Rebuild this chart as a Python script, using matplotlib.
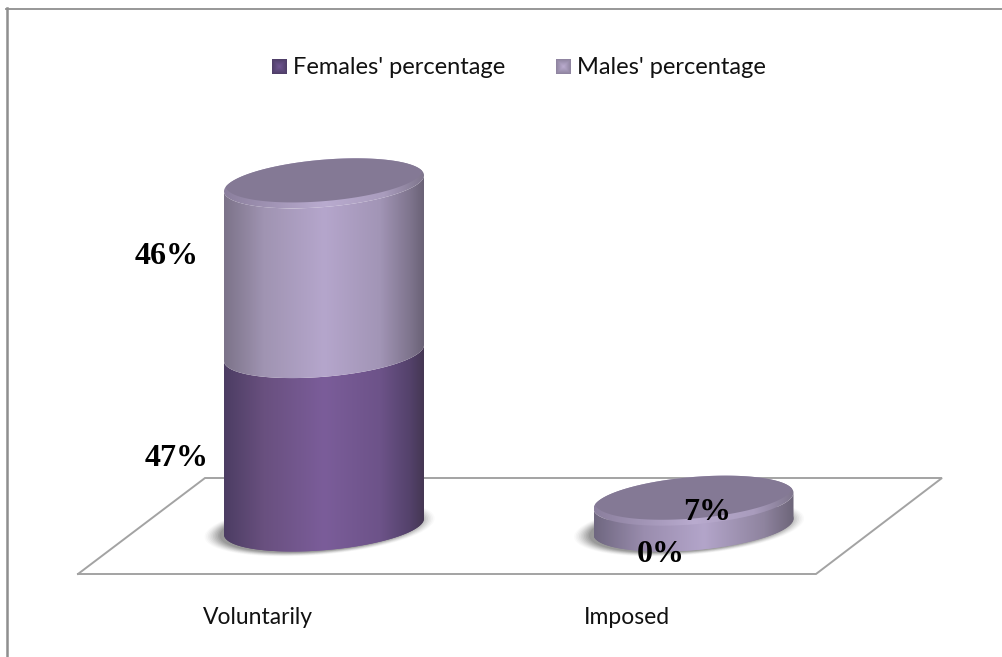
import numpy as np
import matplotlib
matplotlib.use("Agg")
import matplotlib.pyplot as plt
from matplotlib.colors import LinearSegmentedColormap
from matplotlib.patches import Polygon
from matplotlib.transforms import Affine2D

categories = ["Voluntarily", "Imposed"]
series_names = ["Females' percentage", "Males' percentage"]
females = [47, 0]
males = [46, 7]

W, H = 1002, 657
fig = plt.figure(figsize=(W / 100, H / 100), dpi=100, facecolor="white")
ax = fig.add_axes([0, 0, 1, 1])
ax.axis("off")

# Category and percentage scales, placed on the canvas by the limits below
PX_PER_CAT, CAT0_X = 369.5, 324.0
PX_PER_PCT, ZERO_Y = 3.69, 526.5
XLIM = ((0 - CAT0_X) / PX_PER_CAT, (W - CAT0_X) / PX_PER_CAT)
YLIM = ((ZERO_Y - H) / PX_PER_PCT, ZERO_Y / PX_PER_PCT)
ax.set_xlim(*XLIM)
ax.set_ylim(*YLIM)

# Canvas coordinates with the origin at the top left, for furniture and text
pix = Affine2D().scale(1, -1).translate(0, H)

HALF_W = 100 / PX_PER_CAT
TILT = 8 / PX_PER_PCT
MINOR = 23.7 / PX_PER_PCT


def ellipse(x0, y0, k=1.0, n=240):
    t = np.linspace(0, 2 * np.pi, n)
    return np.column_stack([x0 + k * HALF_W * np.cos(t),
                            y0 + k * (TILT * np.cos(t) + MINOR * np.sin(t))])


def body(x0, lo, hi, n=120):
    # Side wall: front arc of the bottom rim, then front arc of the upper rim
    t = np.linspace(np.pi, 2 * np.pi, n)
    xs = x0 + HALF_W * np.cos(t)
    dy = TILT * np.cos(t) + MINOR * np.sin(t)
    return np.column_stack([np.r_[xs, xs[::-1]],
                            np.r_[lo + dy, hi + dy[::-1]]])


def h_gradient(poly, stops, zorder):
    cmap = LinearSegmentedColormap.from_list("g", stops)
    x0, x1 = poly[:, 0].min(), poly[:, 0].max()
    y0, y1 = poly[:, 1].min(), poly[:, 1].max()
    im = ax.imshow(np.linspace(0, 1, 256)[None, :], cmap=cmap, aspect="auto",
                   extent=(x0, x1, y0, y1), zorder=zorder, interpolation="bilinear")
    clip = Polygon(poly, closed=True, transform=ax.transData, fc="none", ec="none")
    ax.add_patch(clip)
    im.set_clip_path(clip)


FEMALE_STOPS = [(0, "#4c3d63"), (0.2, "#69507f"), (0.5, "#7b5d9a"),
                (0.78, "#6d5389"), (0.93, "#54426b"), (1, "#453753")]
MALE_STOPS = [(0, "#7c7389"), (0.2, "#a094b2"), (0.5, "#b5a6cc"),
              (0.78, "#a295b6"), (0.93, "#7f758e"), (1, "#6a6276")]
DISC_STOPS = [(0, "#6f6780"), (0.25, "#9a8dae"), (0.55, "#b3a5ca"),
              (0.85, "#8f849f"), (1, "#6d6579")]
RIM_STOPS = [(0, "#8b7f9d"), (0.5, "#b9abcf"), (0.8, "#a99cbd"), (1, "#7f768d")]
CAP = "#847995"

# Frame: only the left and top sides are drawn
ax.plot([7, 7], [657, 8], color="#8f8f8f", lw=1.8, transform=pix, zorder=0)
ax.plot([6, 1002], [8.5, 8.5], color="#8f8f8f", lw=1.3, transform=pix, zorder=0)

# Floor of the plot
ax.plot([78, 205, 942, 816, 78], [574, 478, 478, 574, 574], color="#a3a3a3", lw=1.4,
        transform=pix, zorder=1, solid_joinstyle="miter")

for i in range(len(categories)):
    f, m = females[i], males[i]
    total = f + m

    # Soft shadow under the column
    for k, a in zip(np.linspace(1.15, 1.0, 10), np.linspace(0.025, 0.11, 10)):
        ax.add_patch(Polygon(ellipse(i - 0.012, -0.3, k), closed=True, fc="#3a3a3a", ec="none",
                             alpha=a, zorder=2))

    if f > 0:
        h_gradient(ellipse(i, 0), FEMALE_STOPS, 3)
        h_gradient(body(i, 0, f), FEMALE_STOPS, 3)
    if m > 0:
        if f == 0:
            h_gradient(ellipse(i, 0), DISC_STOPS, 3)
        h_gradient(body(i, f, total), MALE_STOPS if f > 0 else DISC_STOPS, 4)

    # Top face: a light rim, with the darker cap clipped to the rim's outline
    h_gradient(ellipse(i, total), RIM_STOPS, 5)
    outline = Polygon(ellipse(i, total), closed=True, fc="none", ec="none", transform=ax.transData)
    ax.add_patch(outline)
    cap = Polygon(ellipse(i, total + 1.5, 0.985), closed=True, fc=CAP, ec="none", zorder=6)
    ax.add_patch(cap)
    cap.set_clip_path(outline)

# Data labels
label_font = dict(family="Liberation Serif", weight="bold", size=23, color="black", transform=pix,
                  ha="center", va="center", zorder=10)
ax.text(167, 256, f"{males[0]}%", **label_font)
ax.text(177, 459, f"{females[0]}%", **label_font)
ax.text(707, 513, f"{males[1]}%", **label_font)
ax.text(661, 554, f"{females[1]}%", **label_font)

# Category labels
tick_font = dict(family="Lato", size=16.5, color="#111111", transform=pix, ha="center", va="center")
ax.text(258, 617, categories[0], **tick_font)
ax.text(627, 617, categories[1], **tick_font)

# Legend: small pyramid-shaded squares with their names
legend_font = dict(family="Lato", size=17, color="#111111", transform=pix, ha="left", va="center")
g = np.linspace(-1, 1, 32)
pyramid = np.maximum(np.abs(g)[None, :], np.abs(g)[:, None])
for x, name, stops in [(272, series_names[0], ["#6f5591", "#4f3f68"]),
                       (556, series_names[1], ["#baaccf", "#8f849f"])]:
    cmap = LinearSegmentedColormap.from_list("s", stops)
    ax.imshow(pyramid, cmap=cmap, aspect="auto", zorder=9, extent=(x, x + 15, 74, 59),
              transform=pix)
    ax.text(x + 21, 67, name, **legend_font)

ax.set_xlim(*XLIM)
ax.set_ylim(*YLIM)

fig.savefig("out.png", dpi=100, facecolor="white")
